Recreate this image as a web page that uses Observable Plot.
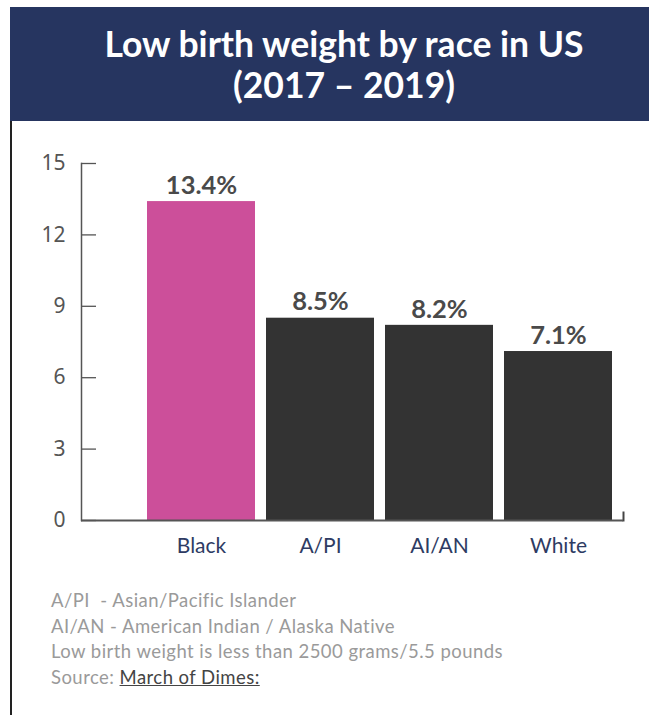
<!DOCTYPE html>
<html>
<head>
<meta charset="utf-8">
<script src="https://cdn.jsdelivr.net/npm/d3@7"></script>
<script src="https://cdn.jsdelivr.net/npm/@observablehq/plot@0.6"></script>
<style>
  html, body { margin: 0; padding: 0; background: #fff; }
  body { width: 649px; height: 715px; position: relative; overflow: hidden; font-family: Lato, "Noto Sans", sans-serif; }
  #header { position: absolute; left: 10px; top: 7px; width: 639px; height: 114px; background: #263560; overflow: hidden; }
  #header .t { position: absolute; left: 0; width: 668px; text-align: center; color: #fff; font-weight: 700; font-size: 35.5px; line-height: 41px; top: 16px; }
  #panel { position: absolute; left: 10px; top: 121px; width: 2px; height: 594px; background: #222; }
  #chart { position: absolute; left: 0; top: 121px; }
  #notes { position: absolute; left: 51px; top: 588px; color: #9a9a9a; font-size: 18.5px; letter-spacing: 0.45px; line-height: 25.5px; }
  #notes a { color: #444; text-decoration: underline; }
</style>
</head>
<body>
<div id="header"><div class="t">Low birth weight by race in US<br>(2017 – 2019)</div></div>
<div id="panel"></div>
<div id="chart"></div>
<div id="notes">
  <div>A/PI&nbsp; - Asian/Pacific Islander</div>
  <div>AI/AN - American Indian / Alaska Native</div>
  <div>Low birth weight is less than 2500 grams/5.5 pounds</div>
  <div>Source: <a>March of Dimes:</a></div>
</div>
<script>
const categories = ["Black", "A/PI", "AI/AN", "White"];
const values = [13.4, 8.5, 8.2, 7.1];
const labels = ["13.4%", "8.5%", "8.2%", "7.1%"];
const yTicks = [0, 3, 6, 9, 12, 15];
const barColors = ["#cc4f9a", "#333333", "#333333", "#333333"];

const data = categories.map((c, i) => ({cat: c, value: values[i], label: labels[i], color: barColors[i]}));

const chart = Plot.plot({
  width: 649,
  height: 450,
  marginLeft: 81,
  marginRight: 26,
  marginTop: 42,
  marginBottom: 51,
  style: {fontFamily: "Lato, 'Noto Sans', sans-serif", background: "transparent"},
  x: {domain: categories, paddingInner: 0.093, paddingOuter: 0.318, align: 0.855},
  y: {domain: [0, 15]},
  marks: [
    Plot.barY(data, {x: "cat", y: "value", fill: "color"}),
    Plot.frame({anchor: "left", stroke: "#555", strokeWidth: 1.5}),
    Plot.frame({anchor: "right", insetTop: 349, stroke: "#444", strokeWidth: 2}),
    Plot.ruleY([0], {stroke: "#555", strokeWidth: 2}),
    Plot.axisY(yTicks, {anchor: "left", tickSize: -15, tickFormat: () => "", stroke: "#555", strokeWidth: 1.3, label: null}),
    Plot.axisY(yTicks, {anchor: "left", tickSize: 0, tickPadding: 16, fontSize: 21, fill: "#555", fontFamily: "'Noto Sans', sans-serif", label: null}),
    Plot.axisX(categories, {anchor: "bottom", tickSize: 0, tickPadding: 18, fontSize: 21, fill: "#2e3b63", label: null}),
    Plot.text(data, {x: "cat", y: "value", text: "label", dy: -16, fontSize: 25.5, fontWeight: 700, fill: "#4a4a4a"})
  ]
});
document.getElementById("chart").appendChild(chart);
</script>
</body>
</html>
